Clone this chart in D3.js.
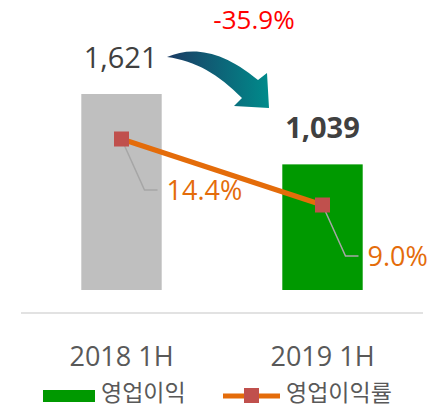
<!DOCTYPE html>
<html lang="ko">
<head>
  <meta charset="UTF-8">
  <title>영업이익</title>
  <style>
    html, body { margin: 0; padding: 0; background: #fff; }
    svg { display: block; font-family: "Open Sans", "Noto Sans CJK KR", sans-serif; }
  </style>
</head>
<body>
  <script src="https://d3js.org/d3.v7.min.js"></script>
  <script>
    const categories = ['2018 1H', '2019 1H'];
    const profit = [1621, 1039];
    const margin = [14.4, 9.0];
    const changeText = '-35.9%';
    const legendLabels = ['영업이익', '영업이익률'];

    const width = 440, height = 407;
    const svg = d3.select('body').append('svg')
      .attr('width', width).attr('height', height);

    const x = d3.scaleBand().domain(categories).range([21, 423])
      .paddingInner(0.6).paddingOuter(0.3);
    const y = d3.scaleLinear().domain([0, 1621]).range([290, 94]);
    const y2 = d3.scaleLinear().domain([0, 14.4]).range([315, 139]);

    const barColors = ['#bfbfbf', '#009900'];
    const rows = categories.map((c, i) => ({ c, v: profit[i], m: margin[i], i }));

    // bars
    svg.append('g').selectAll('rect').data(rows).enter().append('rect')
      .attr('x', d => x(d.c)).attr('width', x.bandwidth())
      .attr('y', d => y(d.v)).attr('height', d => y(0) - y(d.v))
      .attr('fill', d => barColors[d.i]);

    // axis line
    svg.append('line').attr('x1', 21).attr('x2', 423).attr('y1', 313).attr('y2', 313)
      .attr('stroke', '#d9d9d9').attr('stroke-width', 1.5);

    // category labels
    svg.append('g').selectAll('text').data(rows).enter().append('text')
      .attr('x', d => x(d.c) + x.bandwidth() / 2).attr('y', 366)
      .attr('text-anchor', 'middle').attr('font-size', 27).attr('fill', '#595959')
      .text(d => d.c);

    // value labels
    const fmt = d3.format(',');
    svg.append('g').selectAll('text').data(rows).enter().append('text')
      .attr('x', d => d.i === 0 ? x(d.c) + x.bandwidth() / 2 + 36 : x(d.c) + x.bandwidth() / 2)
      .attr('y', d => y(d.v) - 26)
      .attr('text-anchor', d => d.i === 0 ? 'end' : 'middle')
      .attr('font-size', 29)
      .attr('font-weight', d => d.i === 0 ? 400 : 700)
      .attr('fill', '#404040')
      .text(d => fmt(d.v));

    // change text
    svg.append('text').attr('x', 254).attr('y', 29).attr('text-anchor', 'middle')
      .attr('font-size', 26).attr('fill', '#ff0000').text(changeText);

    // curved arrow
    const defs = svg.append('defs');
    const grad = defs.append('linearGradient').attr('id', 'arrowGrad')
      .attr('x1', '0%').attr('x2', '100%').attr('y1', '0%').attr('y2', '0%');
    grad.append('stop').attr('offset', '0%').attr('stop-color', '#1b3a63');
    grad.append('stop').attr('offset', '100%').attr('stop-color', '#008b8b');
    svg.append('path')
      .attr('d', 'M167,57 C192,46 222,50 258,80 L267,73 L269,108 L234,106 L242,98 C218,74 196,61 167,57 Z')
      .attr('fill', 'url(#arrowGrad)');

    // margin line
    const cx = d => x(d.c) + x.bandwidth() / 2;
    svg.append('path').datum(rows)
      .attr('d', d3.line().x(cx).y(d => y2(d.m)))
      .attr('fill', 'none').attr('stroke', '#e46c0a').attr('stroke-width', 5);

    // leader lines
    svg.append('g').selectAll('path').data(rows).enter().append('path')
      .attr('d', d => `M${cx(d)},${y2(d.m)} L${cx(d) + 23},${y2(d.m) + 51} L${cx(d) + 36},${y2(d.m) + 51}`)
      .attr('fill', 'none').attr('stroke', '#a6a6a6').attr('stroke-width', 1.5);

    // markers
    svg.append('g').selectAll('rect').data(rows).enter().append('rect')
      .attr('x', d => cx(d) - 7.5).attr('y', d => y2(d.m) - 7.5)
      .attr('width', 15).attr('height', 15).attr('fill', '#c0504d');

    // margin labels
    svg.append('g').selectAll('text').data(rows).enter().append('text')
      .attr('x', d => cx(d) + 45).attr('y', d => y2(d.m) + 61)
      .attr('font-size', 27).attr('fill', '#e46c0a')
      .text(d => d.m.toFixed(1) + '%');

    // legend
    const lg = svg.append('g');
    lg.append('rect').attr('x', 43).attr('y', 390).attr('width', 52).attr('height', 12).attr('fill', '#009900');
    lg.append('text').attr('x', 101).attr('y', 401).attr('font-size', 23).attr('fill', '#595959')
      .attr('font-family', '"Noto Sans CJK KR", sans-serif').text(legendLabels[0]);
    lg.append('line').attr('x1', 223).attr('x2', 280).attr('y1', 396).attr('y2', 396)
      .attr('stroke', '#e46c0a').attr('stroke-width', 5);
    lg.append('rect').attr('x', 244).attr('y', 388).attr('width', 15).attr('height', 15).attr('fill', '#c0504d');
    lg.append('text').attr('x', 286).attr('y', 401).attr('font-size', 23).attr('fill', '#595959')
      .attr('font-family', '"Noto Sans CJK KR", sans-serif').text(legendLabels[1]);
  </script>
</body>
</html>
